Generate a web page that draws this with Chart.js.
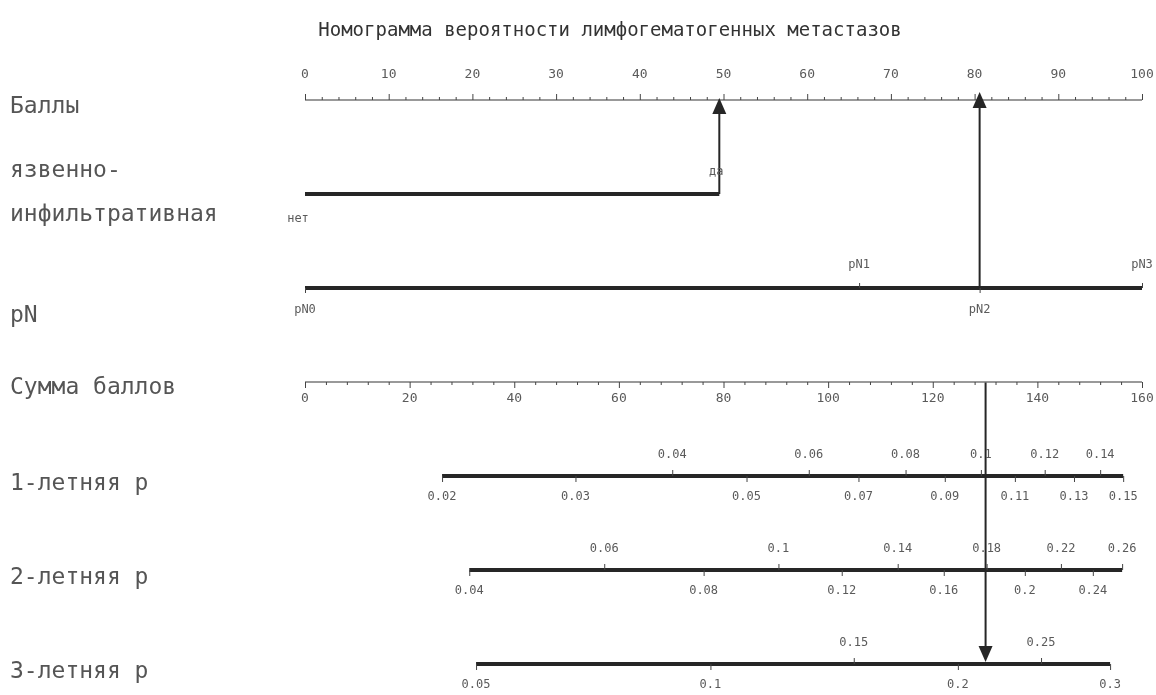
<!DOCTYPE html>
<html><head><meta charset="utf-8">
<script src="https://cdn.jsdelivr.net/npm/chart.js@4"></script>
<style>html,body{margin:0;padding:0;background:#fff}canvas{display:block}</style>
</head><body>
<canvas id="c" width="1156" height="695"></canvas>
<script>
// ---------- data ----------
const titleText = 'Номограмма вероятности лимфогематогенных метастазов';
const rowLabels = [['Баллы'], ['язвенно-', 'инфильтративная'], ['pN'], ['Сумма баллов'], ['1-летняя p'], ['2-летняя p'], ['3-летняя p']];

const pointTicks = [0, 10, 20, 30, 40, 50, 60, 70, 80, 90, 100];
const pointsMax = 100;

const ulcerLabels = ['нет', 'да'];
const ulcerPoints = [0, 49.5];

const pnLabels = ['pN0', 'pN1', 'pN2', 'pN3'];
const pnPoints = [0, 66.2, 80.6, 100];
const pnAbove = [0, 1, 0, 1];

const totalTicks = [0, 20, 40, 60, 80, 100, 120, 140, 160];
const totalMax = 160;

const p1Labels = ['0.02', '0.03', '0.04', '0.05', '0.06', '0.07', '0.08', '0.09', '0.1', '0.11', '0.12', '0.13', '0.14', '0.15'];
const p1Total = [26.2, 51.7, 70.2, 84.4, 96.3, 105.8, 114.8, 122.3, 129.2, 135.7, 141.4, 147.0, 152.0, 156.4];
const p1Above = [0, 0, 1, 0, 1, 0, 1, 0, 1, 0, 1, 0, 1, 0];

const p2Labels = ['0.04', '0.06', '0.08', '0.1', '0.12', '0.14', '0.16', '0.18', '0.2', '0.22', '0.24', '0.26'];
const p2Total = [31.4, 57.2, 76.2, 90.5, 102.6, 113.3, 122.1, 130.3, 137.6, 144.5, 150.6, 156.2];
const p2Above = [0, 1, 0, 1, 0, 1, 0, 1, 0, 1, 0, 1];

const p3Labels = ['0.05', '0.1', '0.15', '0.2', '0.25', '0.3'];
const p3Total = [32.7, 77.5, 104.9, 124.8, 140.7, 153.9];
const p3Above = [0, 0, 1, 0, 1, 0];

// example patient: ulcerative = да, pN2
const examplePoints = [49.5, 80.6];
const exampleTotal = 130.1;

// ---------- helpers ----------
const t2p = t => t * pointsMax / totalMax;
const seg = (a, b, row) => [{x: a, y: row}, {x: b, y: row}];
const vseg = (xv, r1, r2) => [{x: xv, y: r1}, {x: xv, y: r2}];
const INK = '#262626';

function lineDs(data, w, color) {
  return {data, showLine: true, borderColor: color, borderWidth: w, pointRadius: 0, clip: false, borderCapStyle: 'butt'};
}

const datasets = [
  lineDs(seg(0, pointsMax, 0), 1.5, '#777'),
  lineDs(seg(ulcerPoints[0], ulcerPoints[1], 1), 4, INK),
  lineDs(seg(pnPoints[0], pnPoints[pnPoints.length - 1], 2), 4, INK),
  lineDs(seg(0, t2p(totalMax), 3), 1.5, '#777'),
  lineDs(seg(t2p(p1Total[0]), t2p(p1Total[p1Total.length - 1]), 4), 4, INK),
  lineDs(seg(t2p(p2Total[0]), t2p(p2Total[p2Total.length - 1]), 5), 4, INK),
  lineDs(seg(t2p(p3Total[0]), t2p(p3Total[p3Total.length - 1]), 6), 4, INK),
  lineDs(vseg(examplePoints[0], 1, 0.12), 2, INK),
  lineDs(vseg(examplePoints[1], 2, 0.08), 2, INK),
  lineDs(vseg(t2p(exampleTotal), 3, 5.85), 2, INK)
];

const nomo = {
  id: 'nomo',
  afterDatasetsDraw(chart) {
    const {ctx} = chart;
    const xs = chart.scales.x, ys = chart.scales.y;
    const X = v => xs.getPixelForValue(v);
    const Y = r => ys.getPixelForValue(r);
    ctx.save();
    // title
    ctx.fillStyle = '#333';
    ctx.font = '19px "DejaVu Sans Mono"';
    ctx.textAlign = 'center';
    ctx.textBaseline = 'middle';
    ctx.fillText(titleText, 610, 31);
    // row labels
    ctx.font = '23px "DejaVu Sans Mono"';
    ctx.fillStyle = '#555';
    ctx.textAlign = 'left';
    const offs = [[7], [-23, 21], [28], [6], [8], [8], [8]];
    rowLabels.forEach((lines, i) => lines.forEach((s, j) => ctx.fillText(s, 10, Y(i) + offs[i][j])));

    ctx.strokeStyle = '#444';
    ctx.lineWidth = 1;
    const tick = (xp, yp, len) => { ctx.beginPath(); ctx.moveTo(xp + 0.5, yp); ctx.lineTo(xp + 0.5, yp + len); ctx.stroke(); };
    ctx.fillStyle = '#5a5a5a';
    ctx.textAlign = 'center';

    // points axis
    ctx.font = '13px "DejaVu Sans Mono"';
    for (let v = 0; v <= pointsMax; v += 2) tick(X(v), Y(0), v % 10 === 0 ? -6 : -3);
    pointTicks.forEach(v => ctx.fillText(String(v), X(v), Y(0) - 25));

    // total axis
    for (let v = 0; v <= totalMax; v += 4) tick(X(t2p(v)), Y(3), v % 20 === 0 ? 6 : 3);
    totalTicks.forEach(v => ctx.fillText(String(v), X(t2p(v)), Y(3) + 17));

    ctx.font = '12px "DejaVu Sans Mono"';
    // ulcer
    ctx.fillText(ulcerLabels[0], X(ulcerPoints[0]) - 7, Y(1) + 25);
    ctx.fillText(ulcerLabels[1], X(ulcerPoints[1]) - 3, Y(1) - 22);
    // pN
    pnPoints.forEach((v, i) => {
      const up = pnAbove[i];
      tick(X(v), Y(2), up ? -5 : 5);
      ctx.fillText(pnLabels[i], X(v), Y(2) + (up ? -23 : 22));
    });
    // probability axes
    [[p1Labels, p1Total, p1Above, 4], [p2Labels, p2Total, p2Above, 5], [p3Labels, p3Total, p3Above, 6]].forEach(([labs, tot, ab, row]) => {
      tot.forEach((t, i) => {
        const up = ab[i];
        tick(X(t2p(t)), Y(row), up ? -6 : 6);
        ctx.fillText(labs[i], X(t2p(t)), Y(row) + (up ? -21 : 21));
      });
    });

    // arrowheads
    ctx.fillStyle = INK;
    const head = (xp, tip, dir) => {
      ctx.beginPath();
      ctx.moveTo(xp, tip);
      ctx.lineTo(xp - 7, tip + dir * 16);
      ctx.lineTo(xp + 7, tip + dir * 16);
      ctx.closePath();
      ctx.fill();
    };
    head(X(examplePoints[0]), Y(0) - 2, 1);
    head(X(examplePoints[1]), Y(0) - 8, 1);
    head(X(t2p(exampleTotal)), Y(6) - 2, -1);
    ctx.restore();
  }
};

new Chart(document.getElementById('c'), {
  type: 'scatter',
  data: {datasets},
  options: {
    responsive: false,
    animation: false,
    events: [],
    layout: {padding: {left: 305, right: 14, top: 100, bottom: 31}},
    scales: {
      x: {type: 'linear', min: 0, max: pointsMax, display: false},
      y: {type: 'linear', min: 0, max: 6, reverse: true, display: false}
    },
    plugins: {legend: {display: false}, tooltip: {enabled: false}, title: {display: false}}
  },
  plugins: [nomo]
});
</script>
</body></html>
